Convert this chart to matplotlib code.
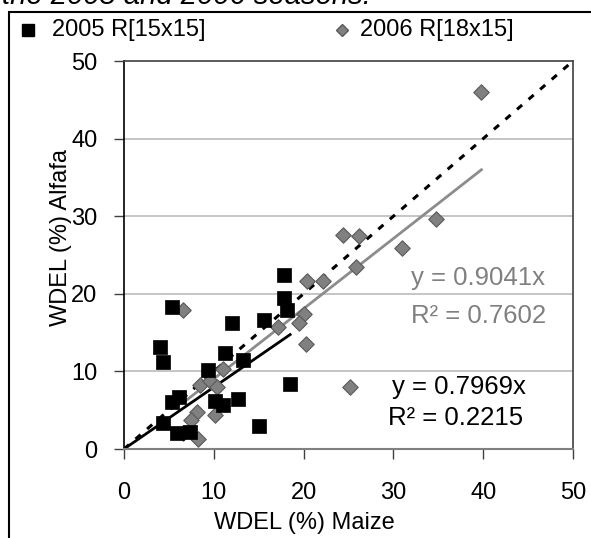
import matplotlib
matplotlib.use("Agg")
import matplotlib.pyplot as plt
from matplotlib.patches import Rectangle
from matplotlib.lines import Line2D
import numpy as np

plt.rcParams['font.family'] = ['Liberation Sans', 'DejaVu Sans']

# 2005 R[15x15]
x2005 = [17.8, 5.4, 17.8, 18.1, 12.0, 15.6, 4.0, 4.3, 11.2, 13.2, 9.4, 18.5,
         6.1, 5.4, 10.1, 11.0, 12.7, 4.3, 15.0, 5.9, 7.3]
y2005 = [22.4, 18.3, 19.4, 17.9, 16.3, 16.6, 13.2, 11.2, 12.4, 11.5, 10.2, 8.4,
         6.7, 6.0, 6.2, 5.7, 6.4, 3.4, 3.0, 2.0, 2.2]
# 2006 R[18x15]
x2006 = [6.6, 20.4, 22.2, 20.0, 19.5, 17.1, 20.3, 11.0, 8.5, 9.6, 10.4, 8.1,
         10.1, 7.5, 6.6, 8.2, 39.8, 24.4, 26.2, 34.7, 31.0, 25.8, 25.2]
y2006 = [17.9, 21.6, 21.6, 17.4, 16.3, 15.7, 13.5, 10.3, 8.2, 8.7, 8.0, 4.8,
         4.4, 3.7, 2.1, 1.3, 46.0, 27.6, 27.5, 29.6, 25.9, 23.4, 8.0]

slope2005 = 0.7969
r2_2005 = 0.2215
slope2006 = 0.9041
r2_2006 = 0.7602

ticks = [0, 10, 20, 30, 40, 50]
label2005 = "2005 R[15x15]"
label2006 = "2006 R[18x15]"

W, H = 591, 538
fig = plt.figure(figsize=(W / 100, H / 100), dpi=100)
ax = fig.add_axes([124 / W, 1 - 449 / H, (573 - 124) / W, (449 - 61) / H])

FS = 17
FS_EQ = 18.5
gray = '#808080'

# gridlines
for t in ticks[1:-1]:
    ax.axhline(t, color='#c0c0c0', lw=1.3, zorder=0)

# 1:1 line
ax.plot([0, 50], [0, 50], color='black', lw=2.2, ls=(0, (2.2, 2.8)), zorder=2)

# trendlines
xb = np.array([0, max(x2005)])
ax.plot(xb, slope2005 * xb, color='black', lw=2, zorder=2)
xg = np.array([min(x2006), max(x2006)])
ax.plot(xg, slope2006 * xg, color='#8c8c8c', lw=2, zorder=2)

# points
ax.scatter(x2006, y2006, marker='D', s=62, color='#808080', edgecolors='#5a5a5a',
           linewidths=0.8, zorder=3)
ax.scatter(x2005, y2005, marker='s', s=92, color='black', edgecolors='black',
           linewidths=0.5, zorder=4)

ax.set_xlim(0, 50)
ax.set_ylim(0, 50)
ax.set_xticks(ticks)
ax.set_yticks(ticks)
ax.tick_params(axis='both', labelsize=FS, direction='out', length=7, width=1,
               color='#404040')
ax.tick_params(axis='x', pad=17)
ax.tick_params(axis='y', pad=12)

for s in ['top', 'right']:
    ax.spines[s].set_color('#404040')
    ax.spines[s].set_linewidth(1.2)
ax.spines['left'].set_color('black')
ax.spines['left'].set_linewidth(1.2)
ax.spines['bottom'].set_color('#808080')
ax.spines['bottom'].set_linewidth(1.5)

ax.set_xlabel("WDEL (%) Maize", fontsize=FS, va='center')
ax.xaxis.set_label_coords(0.401, -0.19)
fig.text(61 / W, 1 - 237 / H, "WDEL (%) Alfafa", fontsize=FS, rotation=90,
         ha='center', va='center')

# equations
ax.text(32.0, 22.0, f"y = {slope2006}x", color=gray, fontsize=FS_EQ, ha='left', va='center')
ax.text(32.0, 17.1, f"R² = {r2_2006}", color=gray, fontsize=FS_EQ, ha='left', va='center')
ax.text(29.8, 8.0, f"y = {slope2005}x", color='black', fontsize=FS_EQ, ha='left', va='center')
ax.text(29.4, 4.0, f"R² = {r2_2005}", color='black', fontsize=FS_EQ, ha='left', va='center')

# legend (manual placement of the two entries above the plot)
ly = 1 - 30 / H
fig.add_artist(Line2D([28 / W], [ly], marker='s', ls='none', color='black',
                      markersize=9, transform=fig.transFigure))
fig.text(52 / W, ly, label2005, fontsize=FS, ha='left', va='center')
fig.add_artist(Line2D([342 / W], [ly], marker='D', ls='none', color='#808080',
                      markeredgecolor='#5a5a5a', markersize=6.5,
                      transform=fig.transFigure))
fig.text(360 / W, ly, label2006, fontsize=FS, ha='left', va='center')

# cut-off caption and outer frame
fig.text(2 / W, 1 - 4.5 / H, "the 2005 and 2006 seasons.", fontsize=21, style='italic',
         ha='left', va='baseline')
fig.add_artist(Rectangle((9 / W, -0.1), 1.2, 1.1 - 12 / H, transform=fig.transFigure,
                         fill=False, edgecolor='black', lw=1.5))

fig.savefig("out.png", dpi=100)
